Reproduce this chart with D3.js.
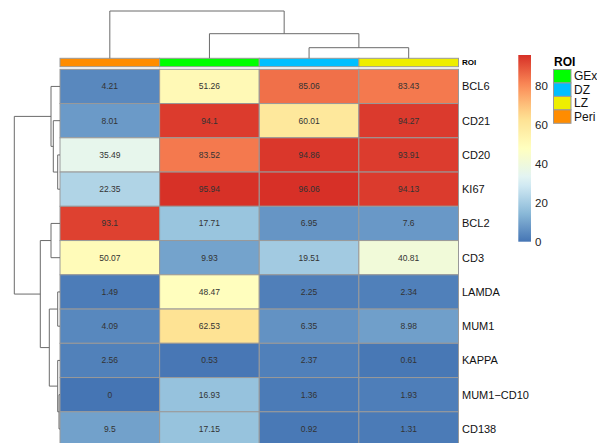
<!DOCTYPE html>
<html>
<head>
<meta charset="utf-8">
<script src="https://cdn.jsdelivr.net/npm/d3@7"></script>
<style>
  html, body { margin: 0; padding: 0; background: #fff; }
  svg { display: block; font-family: "Liberation Sans", Arial, Helvetica, sans-serif; }
</style>
</head>
<body>
<svg id="chart" width="597" height="443"></svg>
<script>
// Markers (rows) and regions of interest (columns), in clustered order
const rowNames = ["BCL6", "CD21", "CD20", "KI67", "BCL2", "CD3", "LAMDA", "MUM1", "KAPPA", "MUM1\u2212CD10", "CD138"];
const colNames = ["Peri", "GEx", "DZ", "LZ"];

// Percent positive per marker, one array per column
const periValues = [4.21, 8.01, 35.49, 22.35, 93.1, 50.07, 1.49, 4.09, 2.56, 0, 9.5];
const gexValues  = [51.26, 94.1, 83.52, 95.94, 17.71, 9.93, 48.47, 62.53, 0.53, 16.93, 17.15];
const dzValues   = [85.06, 60.01, 94.86, 96.06, 6.95, 19.51, 2.25, 6.35, 2.37, 1.36, 0.92];
const lzValues   = [83.43, 94.27, 93.91, 94.13, 7.6, 40.81, 2.34, 8.98, 0.61, 1.93, 1.31];

// Hierarchical clustering merges: [left, right, height]; numbers refer to earlier merges
const rowMerges = [
  ["MUM1\u2212CD10", "CD138", 1.0],
  ["CD20", "KI67", 2.3],
  ["LAMDA", "MUM1", 2.3],
  ["KAPPA", 0, 2.3],
  ["CD21", 1, 6.7],
  ["BCL6", 4, 9.0],
  ["BCL2", "CD3", 9.0],
  [2, 3, 10.7],
  [6, 7, 19.7],
  [5, 8, 45.7]
];
const colMerges = [
  ["DZ", "LZ", 10.6],
  ["GEx", 0, 24.6],
  ["Peri", 1, 47.3]
];

// Annotation legend
const roiLevels = ["GEx", "DZ", "LZ", "Peri"];
const roiColors = ["#00FF00", "#00BFFF", "#EEEE00", "#FF8C00"];
const legendTicks = [0, 20, 40, 60, 80];
const paletteStops = ["#4575B4", "#91BFDB", "#E0F3F8", "#FFFFBF", "#FEE090", "#FC8D59", "#D73027"];

const columns = [periValues, gexValues, dzValues, lzValues];
const cells = [];
rowNames.forEach((r, i) => colNames.forEach((c, j) => cells.push({ row: r, col: c, value: columns[j][i] })));

const allVals = cells.map(d => d.value);
const vMin = d3.min(allVals), vMax = d3.max(allVals);
const color = d3.scaleLinear()
  .domain(paletteStops.map((_, i) => vMin + (vMax - vMin) * i / (paletteStops.length - 1)))
  .range(paletteStops)
  .interpolate(d3.interpolateRgb);
const roiColor = d3.scaleOrdinal().domain(roiLevels).range(roiColors);

const svg = d3.select("#chart");
const grey60 = "#999999";

// Heatmap body
const x = d3.scaleBand().domain(colNames).range([60, 458.5]);
const y = d3.scaleBand().domain(rowNames).range([69.3, 69.3 + 11 * 34.25]);

svg.append("g").selectAll("rect").data(cells).join("rect")
  .attr("x", d => x(d.col)).attr("y", d => y(d.row))
  .attr("width", x.bandwidth()).attr("height", y.bandwidth())
  .attr("fill", d => color(d.value))
  .attr("stroke", grey60).attr("stroke-width", 1);

svg.append("g").selectAll("text").data(cells).join("text")
  .attr("x", d => x(d.col) + x.bandwidth() / 2)
  .attr("y", d => y(d.row) + y.bandwidth() / 2)
  .attr("text-anchor", "middle").attr("dominant-baseline", "central")
  .attr("font-size", 8.5).attr("fill", "#333")
  .text(d => d.value);

// Row labels
svg.append("g").selectAll("text").data(rowNames).join("text")
  .attr("x", 462).attr("y", d => y(d) + y.bandwidth() / 2)
  .attr("dominant-baseline", "central")
  .attr("font-size", 11).attr("fill", "#111")
  .text(d => d);

// Column annotation bar
const annTop = 58.3, annH = 8.4;
svg.append("g").selectAll("rect").data(colNames).join("rect")
  .attr("x", d => x(d)).attr("y", annTop)
  .attr("width", x.bandwidth()).attr("height", annH)
  .attr("fill", d => roiColor(d))
  .attr("stroke", grey60).attr("stroke-width", 1);
svg.append("text")
  .attr("x", 462).attr("y", annTop + annH / 2)
  .attr("dominant-baseline", "central")
  .attr("font-size", 8).attr("font-weight", "bold").attr("fill", "#000")
  .text("ROI");

// Dendrograms
function layoutMerges(merges, leafPos) {
  const nodes = [];
  const pos = ref => typeof ref === "number" ? nodes[ref] : { p: leafPos(ref), h: 0 };
  merges.forEach(([a, b, h]) => {
    const na = pos(a), nb = pos(b);
    nodes.push({ p: (na.p + nb.p) / 2, h, a: na, b: nb });
  });
  return nodes;
}

const rowNodes = layoutMerges(rowMerges, r => y(r) + y.bandwidth() / 2);
const rowH = d3.scaleLinear().domain([0, d3.max(rowMerges, m => m[2])]).range([60, 14.3]);
svg.append("g").selectAll("path").data(rowNodes).join("path")
  .attr("d", n => `M${rowH(n.a.h)},${n.a.p}H${rowH(n.h)}V${n.b.p}H${rowH(n.b.h)}`)
  .attr("fill", "none").attr("stroke", "#6b6b6b").attr("stroke-width", 1);

const colNodes = layoutMerges(colMerges, c => x(c) + x.bandwidth() / 2);
const colH = d3.scaleLinear().domain([0, d3.max(colMerges, m => m[2])]).range([annTop, 11]);
svg.append("g").selectAll("path").data(colNodes).join("path")
  .attr("d", n => `M${n.a.p},${colH(n.a.h)}V${colH(n.h)}H${n.b.p}V${colH(n.b.h)}`)
  .attr("fill", "none").attr("stroke", "#6b6b6b").attr("stroke-width", 1);

// Colour key
const keyX = 518.3, keyW = 12.7, keyTop = 55, keyBottom = 241.7;
const keyScale = d3.scaleLinear().domain([vMin, vMax]).range([keyBottom, keyTop]);
const defs = svg.append("defs");
const grad = defs.append("linearGradient").attr("id", "keygrad")
  .attr("x1", 0).attr("y1", 1).attr("x2", 0).attr("y2", 0);
d3.range(0, 1.0001, 0.05).forEach(t => {
  grad.append("stop").attr("offset", t).attr("stop-color", color(vMin + t * (vMax - vMin)));
});
svg.append("rect")
  .attr("x", keyX).attr("y", keyTop).attr("width", keyW).attr("height", keyBottom - keyTop)
  .attr("fill", "url(#keygrad)");
svg.append("g").selectAll("text").data(legendTicks).join("text")
  .attr("x", 535).attr("y", d => keyScale(d))
  .attr("dominant-baseline", "central")
  .attr("font-size", 11.5).attr("fill", "#222")
  .text(d => d);

// ROI legend
svg.append("text")
  .attr("x", 554).attr("y", 66)
  .attr("font-size", 12).attr("font-weight", "bold").attr("fill", "#000")
  .text("ROI");
const swY = d3.scaleBand().domain(roiLevels).range([69.5, 69.5 + 4 * 13.45]);
svg.append("g").selectAll("rect").data(roiLevels).join("rect")
  .attr("x", 553.5).attr("y", d => swY(d))
  .attr("width", 17.5).attr("height", swY.bandwidth())
  .attr("fill", d => roiColor(d))
  .attr("stroke", grey60).attr("stroke-width", 1);
svg.append("g").selectAll("text").data(roiLevels).join("text")
  .attr("x", 574).attr("y", d => swY(d) + swY.bandwidth() / 2)
  .attr("dominant-baseline", "central")
  .attr("font-size", 12).attr("fill", "#111")
  .text(d => d);
</script>
</body>
</html>
